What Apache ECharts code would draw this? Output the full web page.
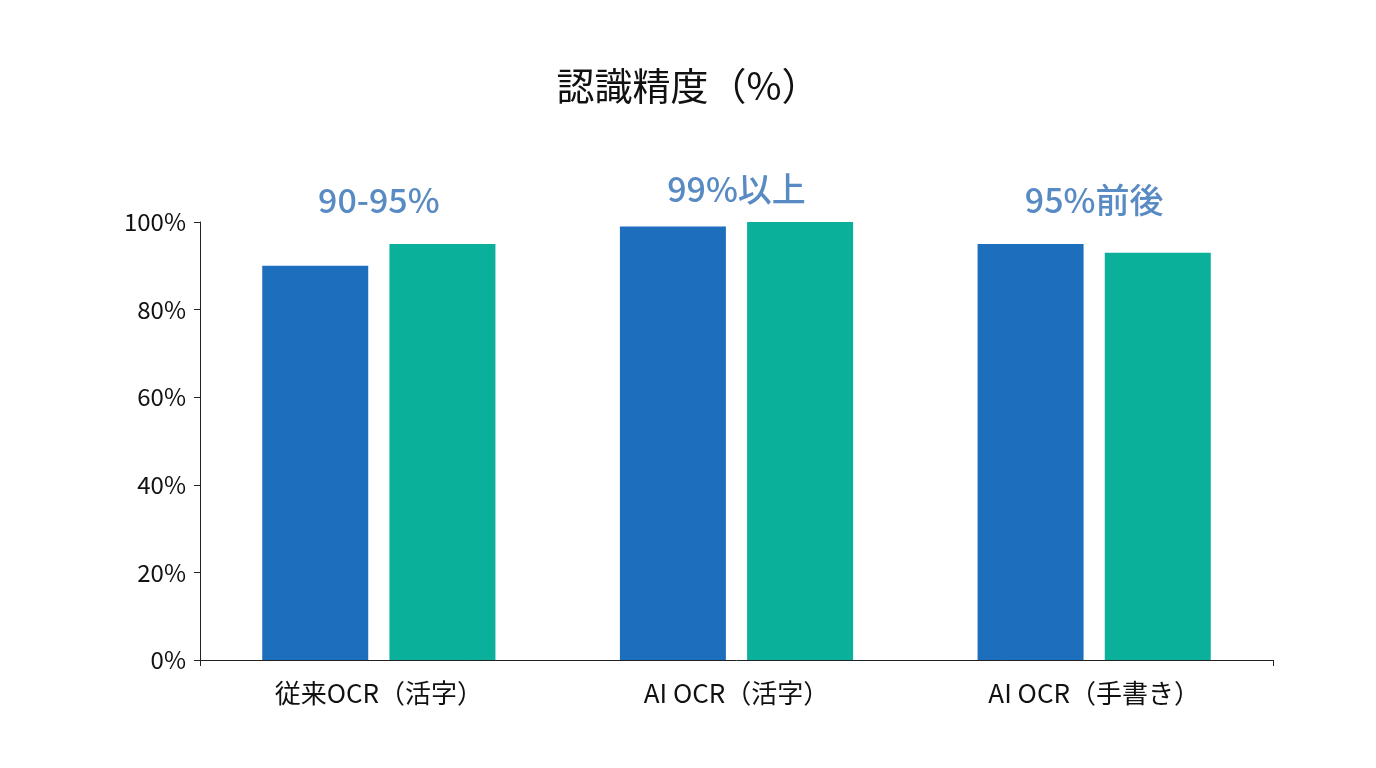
<!DOCTYPE html>
<html><head><meta charset="utf-8">
<script src="https://cdn.jsdelivr.net/npm/echarts@6/dist/echarts.min.js"></script>
<style>html,body{margin:0;background:#fff}#c{width:1376px;height:768px}</style>
</head><body><div id="c"></div>
<script>
const categories = ['従来OCR（活字）', 'AI OCR（活字）', 'AI OCR（手書き）'];
const seriesA = [90, 99, 95];
const seriesB = [95, 100, 93];
const groupLabels = ['90-95%', '99%以上', '95%前後'];
const labelPos = [105, 107.5, 105];
const yTicks = [0, 20, 40, 60, 80, 100];

const font = '"Noto Sans CJK JP", "Noto Sans", sans-serif';
const chart = echarts.init(document.getElementById('c'));
chart.setOption({
  animation: false,
  title: {
    text: '認識精度（%）', left: 'center', top: 62,
    textStyle: { fontFamily: font, fontSize: 38, fontWeight: 'normal', color: '#111' }
  },
  grid: { left: 200, right: 103, top: 222, bottom: 108 },
  xAxis: {
    type: 'category', data: categories,
    axisLine: { lineStyle: { color: '#222' } },
    axisTick: { show: true, alignWithLabel: false, length: 6, lineStyle: { color: '#222' }, interval: i => i === 2 },
    axisLabel: { fontFamily: font, fontSize: 26, color: '#111', margin: 20 }
  },
  yAxis: {
    type: 'value', min: 0, max: 100, interval: 20,
    axisLine: { show: true, lineStyle: { color: '#222' } },
    axisTick: { show: true, length: 6, lineStyle: { color: '#222' } },
    splitLine: { show: false },
    axisLabel: { fontFamily: font, fontSize: 24, color: '#111', margin: 14,
      formatter: v => yTicks.includes(v) ? v + '%' : '' }
  },
  series: [
    { type: 'bar', data: seriesA, barWidth: 106, barGap: '20%', itemStyle: { color: '#1d6fbe' } },
    { type: 'bar', data: seriesB, barWidth: 106, itemStyle: { color: '#0bb09b' } },
    { type: 'scatter', data: labelPos, symbolSize: 0, clip: false, silent: true,
      label: { show: true, position: 'inside', formatter: p => groupLabels[p.dataIndex],
        fontFamily: font, fontSize: 34, color: '#2e6db4', fontWeight: 500 } }
  ]
});
</script></body></html>
